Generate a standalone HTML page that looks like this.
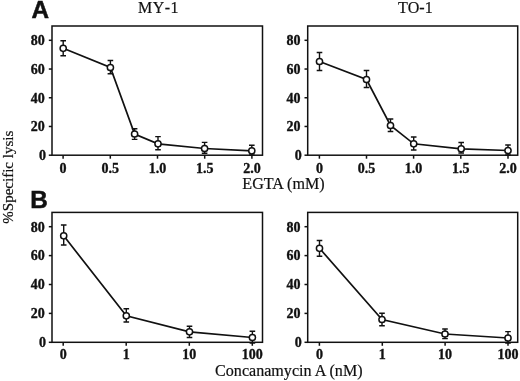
<!DOCTYPE html>
<html><head><meta charset="utf-8"><title>fig</title>
<style>
html,body{margin:0;padding:0;background:#fff;}
svg{display:block;}
text{font-family:"Liberation Serif",serif;fill:#111;}
.tk{font-weight:bold;font-size:14px;stroke:#111;stroke-width:0.35px;}
.lb{font-size:16.1px;stroke:#111;stroke-width:0.2px;}
.pn{font-family:"Liberation Sans",sans-serif;font-weight:bold;font-size:24.3px;stroke:#111;stroke-width:0.5px;}
</style></head><body>
<svg style="will-change:transform" width="520" height="381" viewBox="0 0 520 381">
<rect width="520" height="381" fill="#fff"/>
<rect x="52" y="26" width="210.5" height="129.2" fill="none" stroke="#111" stroke-width="1.5"/>
<line x1="48.8" y1="155.20" x2="52" y2="155.20" stroke="#111" stroke-width="1.5"/>
<text x="46.099999999999994" y="160.00" text-anchor="end" class="tk">0</text>
<line x1="48.8" y1="126.47" x2="52" y2="126.47" stroke="#111" stroke-width="1.5"/>
<text x="44.8" y="131.28" text-anchor="end" class="tk">20</text>
<line x1="48.8" y1="97.75" x2="52" y2="97.75" stroke="#111" stroke-width="1.5"/>
<text x="44.8" y="102.55" text-anchor="end" class="tk">40</text>
<line x1="48.8" y1="69.03" x2="52" y2="69.03" stroke="#111" stroke-width="1.5"/>
<text x="44.8" y="73.83" text-anchor="end" class="tk">60</text>
<line x1="48.8" y1="40.30" x2="52" y2="40.30" stroke="#111" stroke-width="1.5"/>
<text x="44.8" y="45.10" text-anchor="end" class="tk">80</text>
<line x1="63.1" y1="155.2" x2="63.1" y2="158.7" stroke="#111" stroke-width="1.5"/>
<text x="63.1" y="172.7" text-anchor="middle" class="tk">0</text>
<line x1="110.3" y1="155.2" x2="110.3" y2="158.7" stroke="#111" stroke-width="1.5"/>
<text x="110.3" y="172.7" text-anchor="middle" class="tk">0.5</text>
<line x1="157.5" y1="155.2" x2="157.5" y2="158.7" stroke="#111" stroke-width="1.5"/>
<text x="157.5" y="172.7" text-anchor="middle" class="tk">1.0</text>
<line x1="204.7" y1="155.2" x2="204.7" y2="158.7" stroke="#111" stroke-width="1.5"/>
<text x="204.7" y="172.7" text-anchor="middle" class="tk">1.5</text>
<line x1="251.9" y1="155.2" x2="251.9" y2="158.7" stroke="#111" stroke-width="1.5"/>
<text x="251.9" y="172.7" text-anchor="middle" class="tk">2.0</text>
<polyline points="63.2,48.3 110.4,67.5 134.6,134 158,143.8 204.6,148.5 251.8,150.8" fill="none" stroke="#111" stroke-width="1.7"/>
<path d="M63.2,40.8V55.8M60.400000000000006,40.8h5.6M60.400000000000006,55.8h5.6" stroke="#111" stroke-width="1.4" fill="none"/>
<circle cx="63.2" cy="48.3" r="3.1" fill="#fff" stroke="#111" stroke-width="1.5"/>
<path d="M110.4,60.5V73.8M107.60000000000001,60.5h5.6M107.60000000000001,73.8h5.6" stroke="#111" stroke-width="1.4" fill="none"/>
<circle cx="110.4" cy="67.5" r="3.1" fill="#fff" stroke="#111" stroke-width="1.5"/>
<path d="M134.6,128.7V139.4M131.79999999999998,128.7h5.6M131.79999999999998,139.4h5.6" stroke="#111" stroke-width="1.4" fill="none"/>
<circle cx="134.6" cy="134" r="3.1" fill="#fff" stroke="#111" stroke-width="1.5"/>
<path d="M158,136.6V149.8M155.2,136.6h5.6M155.2,149.8h5.6" stroke="#111" stroke-width="1.4" fill="none"/>
<circle cx="158" cy="143.8" r="3.1" fill="#fff" stroke="#111" stroke-width="1.5"/>
<path d="M204.6,142.4V153.3M201.79999999999998,142.4h5.6M201.79999999999998,153.3h5.6" stroke="#111" stroke-width="1.4" fill="none"/>
<circle cx="204.6" cy="148.5" r="3.1" fill="#fff" stroke="#111" stroke-width="1.5"/>
<path d="M251.8,145.2V155M249.0,145.2h5.6M249.0,155h5.6" stroke="#111" stroke-width="1.4" fill="none"/>
<circle cx="251.8" cy="150.8" r="3.1" fill="#fff" stroke="#111" stroke-width="1.5"/>
<rect x="307.7" y="26" width="210.00000000000006" height="129.2" fill="none" stroke="#111" stroke-width="1.5"/>
<line x1="304.5" y1="155.20" x2="307.7" y2="155.20" stroke="#111" stroke-width="1.5"/>
<text x="301.8" y="160.00" text-anchor="end" class="tk">0</text>
<line x1="304.5" y1="126.47" x2="307.7" y2="126.47" stroke="#111" stroke-width="1.5"/>
<text x="300.5" y="131.28" text-anchor="end" class="tk">20</text>
<line x1="304.5" y1="97.75" x2="307.7" y2="97.75" stroke="#111" stroke-width="1.5"/>
<text x="300.5" y="102.55" text-anchor="end" class="tk">40</text>
<line x1="304.5" y1="69.03" x2="307.7" y2="69.03" stroke="#111" stroke-width="1.5"/>
<text x="300.5" y="73.83" text-anchor="end" class="tk">60</text>
<line x1="304.5" y1="40.30" x2="307.7" y2="40.30" stroke="#111" stroke-width="1.5"/>
<text x="300.5" y="45.10" text-anchor="end" class="tk">80</text>
<line x1="319.4" y1="155.2" x2="319.4" y2="158.7" stroke="#111" stroke-width="1.5"/>
<text x="319.4" y="172.7" text-anchor="middle" class="tk">0</text>
<line x1="366.5" y1="155.2" x2="366.5" y2="158.7" stroke="#111" stroke-width="1.5"/>
<text x="366.5" y="172.7" text-anchor="middle" class="tk">0.5</text>
<line x1="413.6" y1="155.2" x2="413.6" y2="158.7" stroke="#111" stroke-width="1.5"/>
<text x="413.6" y="172.7" text-anchor="middle" class="tk">1.0</text>
<line x1="460.8" y1="155.2" x2="460.8" y2="158.7" stroke="#111" stroke-width="1.5"/>
<text x="460.8" y="172.7" text-anchor="middle" class="tk">1.5</text>
<line x1="508" y1="155.2" x2="508" y2="158.7" stroke="#111" stroke-width="1.5"/>
<text x="508" y="172.7" text-anchor="middle" class="tk">2.0</text>
<polyline points="319.5,61.5 366.5,79.5 390.5,125.5 413.7,143.8 461.2,148.8 508,150.5" fill="none" stroke="#111" stroke-width="1.7"/>
<path d="M319.5,52.5V70.5M316.7,52.5h5.6M316.7,70.5h5.6" stroke="#111" stroke-width="1.4" fill="none"/>
<circle cx="319.5" cy="61.5" r="3.1" fill="#fff" stroke="#111" stroke-width="1.5"/>
<path d="M366.5,70.5V87.5M363.7,70.5h5.6M363.7,87.5h5.6" stroke="#111" stroke-width="1.4" fill="none"/>
<circle cx="366.5" cy="79.5" r="3.1" fill="#fff" stroke="#111" stroke-width="1.5"/>
<path d="M390.5,119V131.5M387.7,119h5.6M387.7,131.5h5.6" stroke="#111" stroke-width="1.4" fill="none"/>
<circle cx="390.5" cy="125.5" r="3.1" fill="#fff" stroke="#111" stroke-width="1.5"/>
<path d="M413.7,137V150M410.9,137h5.6M410.9,150h5.6" stroke="#111" stroke-width="1.4" fill="none"/>
<circle cx="413.7" cy="143.8" r="3.1" fill="#fff" stroke="#111" stroke-width="1.5"/>
<path d="M461.2,142.5V153M458.4,142.5h5.6M458.4,153h5.6" stroke="#111" stroke-width="1.4" fill="none"/>
<circle cx="461.2" cy="148.8" r="3.1" fill="#fff" stroke="#111" stroke-width="1.5"/>
<path d="M508,145V155M505.2,145h5.6M505.2,155h5.6" stroke="#111" stroke-width="1.4" fill="none"/>
<circle cx="508" cy="150.5" r="3.1" fill="#fff" stroke="#111" stroke-width="1.5"/>
<rect x="52" y="212.4" width="210.5" height="129.9" fill="none" stroke="#111" stroke-width="1.5"/>
<line x1="48.8" y1="342.30" x2="52" y2="342.30" stroke="#111" stroke-width="1.5"/>
<text x="46.099999999999994" y="347.10" text-anchor="end" class="tk">0</text>
<line x1="48.8" y1="313.40" x2="52" y2="313.40" stroke="#111" stroke-width="1.5"/>
<text x="44.8" y="318.20" text-anchor="end" class="tk">20</text>
<line x1="48.8" y1="284.50" x2="52" y2="284.50" stroke="#111" stroke-width="1.5"/>
<text x="44.8" y="289.30" text-anchor="end" class="tk">40</text>
<line x1="48.8" y1="255.60" x2="52" y2="255.60" stroke="#111" stroke-width="1.5"/>
<text x="44.8" y="260.40" text-anchor="end" class="tk">60</text>
<line x1="48.8" y1="226.70" x2="52" y2="226.70" stroke="#111" stroke-width="1.5"/>
<text x="44.8" y="231.50" text-anchor="end" class="tk">80</text>
<line x1="63.2" y1="342.3" x2="63.2" y2="345.8" stroke="#111" stroke-width="1.5"/>
<text x="63.2" y="358.90000000000003" text-anchor="middle" class="tk">0</text>
<line x1="126.2" y1="342.3" x2="126.2" y2="345.8" stroke="#111" stroke-width="1.5"/>
<text x="126.2" y="358.90000000000003" text-anchor="middle" class="tk">1</text>
<line x1="189.3" y1="342.3" x2="189.3" y2="345.8" stroke="#111" stroke-width="1.5"/>
<text x="189.3" y="358.90000000000003" text-anchor="middle" class="tk">10</text>
<line x1="252.3" y1="342.3" x2="252.3" y2="345.8" stroke="#111" stroke-width="1.5"/>
<text x="252.3" y="358.90000000000003" text-anchor="middle" class="tk">100</text>
<polyline points="63.7,235.8 126.3,315.8 189.5,331.8 252.4,337.5" fill="none" stroke="#111" stroke-width="1.7"/>
<path d="M63.7,225V245M60.900000000000006,225h5.6M60.900000000000006,245h5.6" stroke="#111" stroke-width="1.4" fill="none"/>
<circle cx="63.7" cy="235.8" r="3.1" fill="#fff" stroke="#111" stroke-width="1.5"/>
<path d="M126.3,308.8V322M123.5,308.8h5.6M123.5,322h5.6" stroke="#111" stroke-width="1.4" fill="none"/>
<circle cx="126.3" cy="315.8" r="3.1" fill="#fff" stroke="#111" stroke-width="1.5"/>
<path d="M189.5,326.3V337.5M186.7,326.3h5.6M186.7,337.5h5.6" stroke="#111" stroke-width="1.4" fill="none"/>
<circle cx="189.5" cy="331.8" r="3.1" fill="#fff" stroke="#111" stroke-width="1.5"/>
<path d="M252.4,331.3V343M249.6,331.3h5.6M249.6,343h5.6" stroke="#111" stroke-width="1.4" fill="none"/>
<circle cx="252.4" cy="337.5" r="3.1" fill="#fff" stroke="#111" stroke-width="1.5"/>
<rect x="307.7" y="212.4" width="210.00000000000006" height="129.9" fill="none" stroke="#111" stroke-width="1.5"/>
<line x1="304.5" y1="342.30" x2="307.7" y2="342.30" stroke="#111" stroke-width="1.5"/>
<text x="301.8" y="347.10" text-anchor="end" class="tk">0</text>
<line x1="304.5" y1="313.40" x2="307.7" y2="313.40" stroke="#111" stroke-width="1.5"/>
<text x="300.5" y="318.20" text-anchor="end" class="tk">20</text>
<line x1="304.5" y1="284.50" x2="307.7" y2="284.50" stroke="#111" stroke-width="1.5"/>
<text x="300.5" y="289.30" text-anchor="end" class="tk">40</text>
<line x1="304.5" y1="255.60" x2="307.7" y2="255.60" stroke="#111" stroke-width="1.5"/>
<text x="300.5" y="260.40" text-anchor="end" class="tk">60</text>
<line x1="304.5" y1="226.70" x2="307.7" y2="226.70" stroke="#111" stroke-width="1.5"/>
<text x="300.5" y="231.50" text-anchor="end" class="tk">80</text>
<line x1="319.4" y1="342.3" x2="319.4" y2="345.8" stroke="#111" stroke-width="1.5"/>
<text x="319.4" y="358.90000000000003" text-anchor="middle" class="tk">0</text>
<line x1="382.3" y1="342.3" x2="382.3" y2="345.8" stroke="#111" stroke-width="1.5"/>
<text x="382.3" y="358.90000000000003" text-anchor="middle" class="tk">1</text>
<line x1="445.1" y1="342.3" x2="445.1" y2="345.8" stroke="#111" stroke-width="1.5"/>
<text x="445.1" y="358.90000000000003" text-anchor="middle" class="tk">10</text>
<line x1="508" y1="342.3" x2="508" y2="345.8" stroke="#111" stroke-width="1.5"/>
<text x="508" y="358.90000000000003" text-anchor="middle" class="tk">100</text>
<polyline points="319.5,248.3 382,319.5 445,334 508,338" fill="none" stroke="#111" stroke-width="1.7"/>
<path d="M319.5,240.5V256.3M316.7,240.5h5.6M316.7,256.3h5.6" stroke="#111" stroke-width="1.4" fill="none"/>
<circle cx="319.5" cy="248.3" r="3.1" fill="#fff" stroke="#111" stroke-width="1.5"/>
<path d="M382,313.2V325.8M379.2,313.2h5.6M379.2,325.8h5.6" stroke="#111" stroke-width="1.4" fill="none"/>
<circle cx="382" cy="319.5" r="3.1" fill="#fff" stroke="#111" stroke-width="1.5"/>
<path d="M445,329V338.6M442.2,329h5.6M442.2,338.6h5.6" stroke="#111" stroke-width="1.4" fill="none"/>
<circle cx="445" cy="334" r="3.1" fill="#fff" stroke="#111" stroke-width="1.5"/>
<path d="M508,331.6V343M505.2,331.6h5.6M505.2,343h5.6" stroke="#111" stroke-width="1.4" fill="none"/>
<circle cx="508" cy="338" r="3.1" fill="#fff" stroke="#111" stroke-width="1.5"/>
<text x="31.5" y="18.3" class="pn">A</text>
<text x="30.2" y="207.7" class="pn">B</text>
<text x="158.5" y="13.2" text-anchor="middle" class="lb" style="font-size:16px;letter-spacing:0.45px;font-kerning:none">MY-1</text>
<text x="415.4" y="13.2" text-anchor="middle" class="lb" style="font-size:16.1px">TO-1</text>
<text x="283.5" y="189.3" text-anchor="middle" class="lb">EGTA (mM)</text>
<text x="288.8" y="376.4" text-anchor="middle" class="lb" style="font-size:16.1px">Concanamycin A (nM)</text>
<text transform="translate(13.4,177.2) rotate(-90)" text-anchor="middle" class="lb" style="font-size:15px">%Specific lysis</text>
</svg>
</body></html>
